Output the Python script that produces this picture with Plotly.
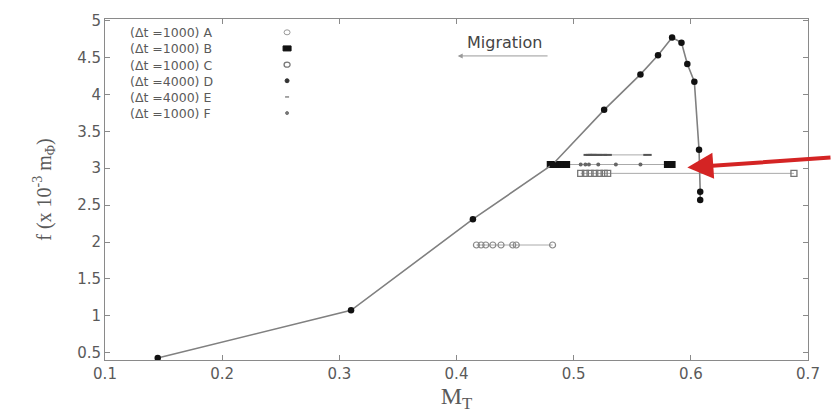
import plotly.graph_objects as go

# ---- data ----
main_x = [0.145, 0.310, 0.414, 0.482, 0.526, 0.557, 0.572, 0.584, 0.592, 0.597, 0.603, 0.607, 0.608, 0.608]
main_y = [0.43, 1.075, 2.31, 3.05, 3.79, 4.27, 4.53, 4.77, 4.70, 4.41, 4.17, 3.25, 2.68, 2.57]

a_x = [0.417, 0.421, 0.425, 0.431, 0.438, 0.448, 0.451, 0.482]
a_y = [1.96] * len(a_x)

b_x = [0.480, 0.482, 0.484, 0.486, 0.488, 0.490, 0.492, 0.494, 0.580, 0.582, 0.584]
b_y = [3.05] * len(b_x)

c_x = [0.506, 0.510, 0.514, 0.518, 0.522, 0.526, 0.529, 0.688]
c_y = [2.93] * len(c_x)

e_x = [0.512, 0.514, 0.516, 0.518, 0.521, 0.525, 0.529, 0.563]
e_y = [3.18] * len(e_x)

f_x = [0.506, 0.510, 0.513, 0.521, 0.536, 0.557]
f_y = [3.05] * len(f_x)

mig_from = (0.479, 4.52)
mig_to = (0.401, 4.52)

legend_labels = ["(\u0394t =1000) A", "(\u0394t =1000) B", "(\u0394t =1000) C",
                 "(\u0394t =4000) D", "(\u0394t =4000) E", "(\u0394t =1000) F"]

x_ticks = [0.1, 0.2, 0.3, 0.4, 0.5, 0.6, 0.7]
y_ticks = [0.5, 1, 1.5, 2, 2.5, 3, 3.5, 4, 4.5, 5]

GRAY = "#8a8a8a"
TXT = "#5a5a5a"
SANS = "DejaVu Sans, Verdana, sans-serif"
SERIF = "Liberation Serif, Times New Roman, serif"

fig = go.Figure()

fig.add_trace(go.Scatter(x=a_x, y=a_y, mode="lines+markers", showlegend=False,
                         line=dict(color="#aaaaaa", width=1),
                         marker=dict(symbol="circle-open", size=6, color="#888888", line=dict(width=1.2))))
fig.add_trace(go.Scatter(x=c_x, y=c_y, mode="lines+markers", showlegend=False,
                         line=dict(color="#aaaaaa", width=1),
                         marker=dict(symbol="square-open", size=6, color="#777777", line=dict(width=1.3))))
fig.add_trace(go.Scatter(x=e_x, y=e_y, mode="lines+markers", showlegend=False,
                         line=dict(color="#aaaaaa", width=1),
                         marker=dict(symbol="line-ew-open", size=6, color="#555555", line=dict(width=2))))
fig.add_trace(go.Scatter(x=b_x, y=b_y, mode="lines+markers", showlegend=False,
                         line=dict(color="#aaaaaa", width=1),
                         marker=dict(symbol="square", size=7, color="#111111")))
fig.add_trace(go.Scatter(x=f_x, y=f_y, mode="markers", showlegend=False,
                         marker=dict(symbol="circle", size=4, color="#666666")))
fig.add_trace(go.Scatter(x=main_x, y=main_y, mode="lines+markers", showlegend=False,
                         line=dict(color="#808080", width=1.6),
                         marker=dict(symbol="circle", size=6.5, color="#111111")))

# Migration arrow and label
fig.add_annotation(x=mig_to[0], y=mig_to[1], ax=mig_from[0], ay=mig_from[1],
                   xref="x", yref="y", axref="x", ayref="y", text="",
                   showarrow=True, arrowhead=2, arrowsize=1, arrowwidth=1, arrowcolor="#999999")
fig.add_annotation(x=0.441, y=4.70, xref="x", yref="y", text="Migration", showarrow=False,
                   font=dict(family=SANS, size=16, color="#444444"))

# Red pointer arrow
fig.add_annotation(x=0.597, y=3.01, xref="x", yref="y", ax=145, ay=-10, text="",
                   showarrow=True, arrowhead=2, arrowsize=1.3, arrowwidth=4, arrowcolor="#d42424")

# Manual legend (text then symbol, as in the figure) - one multi-line text block
fig.add_annotation(x=0.0325, y=(360 - 71) / 343, xref="paper", yref="paper",
                   text="<br>".join(legend_labels), showarrow=False, align="left",
                   xanchor="left", yanchor="middle",
                   font=dict(family=SANS, size=12.5, color=TXT))
row_px = [30.4, 46.6, 62.9, 79.1, 95.4, 111.6]
leg_y = [(360 - p) / 343 for p in row_px]
mx = 0.259
shp = dict(xref="paper", yref="paper", xsizemode="pixel", ysizemode="pixel", xanchor=mx)
fig.add_shape(type="circle", yanchor=leg_y[0], x0=-3, x1=3, y0=-2.5, y1=2.5,
              line=dict(color="#999999", width=1), **shp)
fig.add_shape(type="rect", yanchor=leg_y[1], x0=-4, x1=4, y0=-2.5, y1=2.5,
              fillcolor="#111111", line=dict(color="#111111", width=1), **shp)
fig.add_shape(type="circle", yanchor=leg_y[2], x0=-3, x1=3, y0=-2.5, y1=2.5,
              line=dict(color="#777777", width=1.3), **shp)
fig.add_shape(type="circle", yanchor=leg_y[3], x0=-2, x1=2, y0=-2, y1=2,
              fillcolor="#333333", line=dict(color="#333333", width=1), **shp)
fig.add_shape(type="line", yanchor=leg_y[4], x0=-2, x1=2, y0=0, y1=0,
              line=dict(color="#888888", width=1.5), **shp)
fig.add_shape(type="circle", yanchor=leg_y[5], x0=-1.5, x1=1.5, y0=-1.5, y1=1.5,
              fillcolor="#777777", line=dict(color="#777777", width=1), **shp)

axis_common = dict(showgrid=False, zeroline=False, showline=True, linecolor=GRAY, linewidth=1,
                   mirror="allticks", ticks="inside", ticklen=5, tickcolor=GRAY,
                   tickfont=dict(family=SANS, size=15, color=TXT))

fig.update_xaxes(range=[0.1, 0.7], tickvals=x_ticks, ticktext=[str(v) for v in x_ticks],
                 title=dict(text="M<sub>T</sub>", standoff=4,
                            font=dict(family=SERIF, size=24, color=TXT)),
                 **axis_common)
fig.update_yaxes(range=[0.403, 5.02], tickvals=y_ticks, ticktext=[("%g" % v) for v in y_ticks],
                 title=dict(text="f (x 10<sup>-3</sup> m<sub>\u03a6</sub>)", standoff=20,
                            font=dict(family=SERIF, size=20, color=TXT)),
                 **axis_common)

fig.update_layout(width=832, height=416, margin=dict(l=105, r=20, t=17, b=56),
                  paper_bgcolor="white", plot_bgcolor="white", showlegend=False)

fig.write_html("out.html")
